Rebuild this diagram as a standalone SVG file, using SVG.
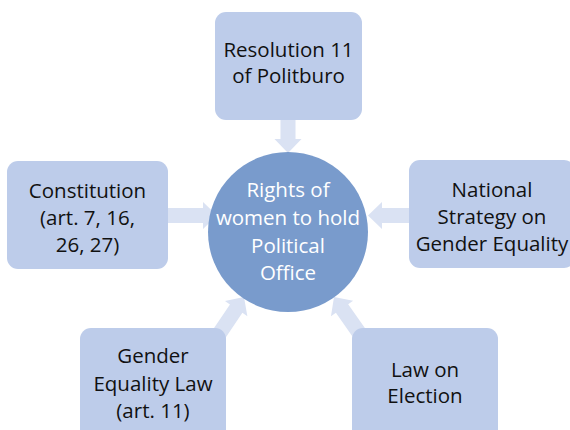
<svg xmlns="http://www.w3.org/2000/svg" width="570" height="430" viewBox="0 0 570 430">
<style>
.box{fill:#BDCCEA;}
.arr{fill:#DAE2F3;}
.t{font-family:"Open Sans","Liberation Sans",sans-serif;font-size:20.5px;fill:#111;text-anchor:middle;}
.w{fill:#fff;}
</style>
<defs>
<polygon id="arrow" points="-60,-7.5 -14,-7.5 -14,-13.5 0,0 -14,13.5 -14,7.5 -60,7.5"/>
</defs>
<rect width="570" height="430" fill="#fff"/>
<g id="connectors" class="arr">
<use href="#arrow" transform="translate(288,153) rotate(90)"/>
<use href="#arrow" transform="translate(217,215.5)"/>
<use href="#arrow" transform="translate(368,215.5) rotate(180)"/>
<use href="#arrow" transform="translate(244,297) rotate(-56)"/>
<use href="#arrow" transform="translate(334,297) rotate(-125)"/>
</g>
<g id="center">
<circle cx="288" cy="232" r="80" fill="#799BCC"/>
<text class="t w" x="288" y="197">Rights of</text>
<text class="t w" x="288" y="225">women to hold</text>
<text class="t w" x="288" y="253">Political</text>
<text class="t w" x="288" y="280">Office</text>
</g>
<g id="resolution">
<rect class="box" x="215" y="12" width="147" height="108" rx="11"/>
<text class="t" x="288.5" y="57">Resolution 11</text>
<text class="t" x="288.5" y="83">of Politburo</text>
</g>
<g id="constitution">
<rect class="box" x="7" y="161" width="161" height="108" rx="11"/>
<text class="t" x="87.5" y="198">Constitution</text>
<text class="t" x="87.5" y="225">(art. 7, 16,</text>
<text class="t" x="87.5" y="252">26, 27)</text>
</g>
<g id="strategy">
<rect class="box" x="409" y="160" width="166" height="108" rx="11"/>
<text class="t" x="492" y="197">National</text>
<text class="t" x="492" y="224">Strategy on</text>
<text class="t" x="492" y="251">Gender Equality</text>
</g>
<g id="genderlaw">
<rect class="box" x="80" y="328" width="146" height="120" rx="11"/>
<text class="t" x="153" y="363">Gender</text>
<text class="t" x="153" y="391">Equality Law</text>
<text class="t" x="153" y="418">(art. 11)</text>
</g>
<g id="election">
<rect class="box" x="352" y="328" width="146" height="120" rx="11"/>
<text class="t" x="425" y="377">Law on</text>
<text class="t" x="425" y="403">Election</text>
</g>
</svg>
